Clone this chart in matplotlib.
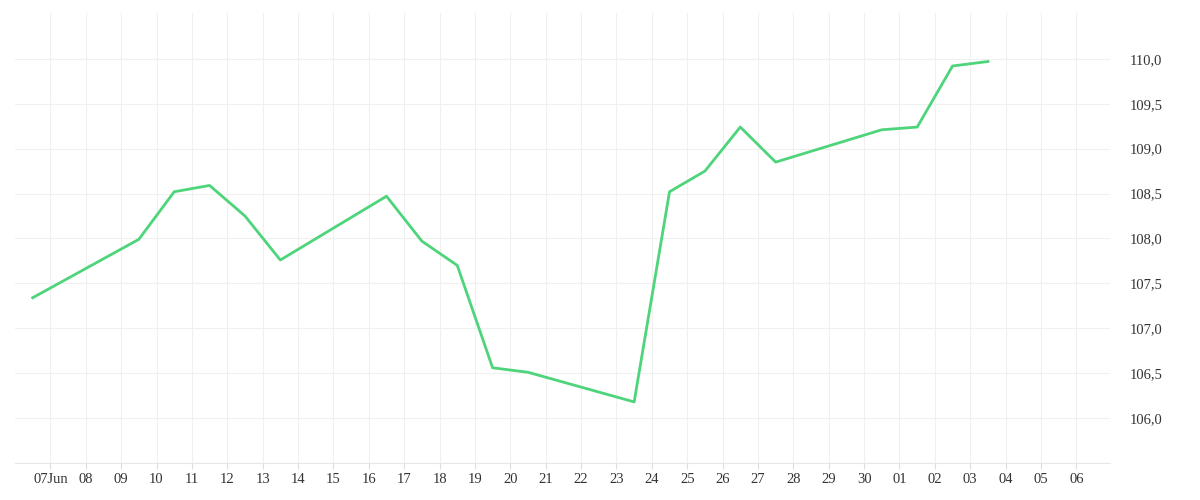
import matplotlib.pyplot as plt

# day offsets from 07 Jun (points sit at mid-day)
days = [-0.5, 2.5, 3.5, 4.5, 5.5, 6.5, 9.5, 10.5, 11.5, 12.5, 13.5,
        16.5, 17.5, 18.5, 19.5, 20.5, 23.5, 24.5, 25.5, 26.5]
values = [107.34, 107.99, 108.52, 108.59, 108.25, 107.76, 108.47, 107.97,
          107.70, 106.56, 106.51, 106.18, 108.52, 108.75, 109.24, 108.85,
          109.21, 109.24, 109.92, 109.97]
tick_labels = ["07Jun", "08", "09", "10", "11", "12", "13", "14", "15", "16",
               "17", "18", "19", "20", "21", "22", "23", "24", "25", "26",
               "27", "28", "29", "30", "01", "02", "03", "04", "05", "06"]
y_ticks = [106.0, 106.5, 107.0, 107.5, 108.0, 108.5, 109.0, 109.5, 110.0]

plt.rcParams['font.family'] = ['Liberation Serif', 'DejaVu Serif']
fig = plt.figure(figsize=(12, 5), dpi=100)
ax = fig.add_axes([15/1200, 37/500, 1095/1200, 450/500])

ax.plot(days, values, color='#4ed47a', linewidth=2)

ax.set_xlim(-1.0, 29.95)
ax.set_ylim(105.5, 110.51)
ax.set_xticks(range(len(tick_labels)))
ax.set_xticklabels(tick_labels, fontsize=10.5, color='#333333')
ax.set_yticks(y_ticks)
ax.set_yticklabels([f"{v:.1f}".replace('.', ',') for v in y_ticks], fontsize=10.5, color='#333333')
ax.yaxis.tick_right()
ax.tick_params(axis='y', length=0, pad=14)
ax.tick_params(axis='x', length=4, color='#dddddd')
ax.grid(True, color='#f0f0f0', linewidth=0.8)
for s in ax.spines.values():
    s.set_visible(False)
ax.spines['bottom'].set_visible(True)
ax.spines['bottom'].set_color('#e6e6e6')

fig.savefig('out.png')
